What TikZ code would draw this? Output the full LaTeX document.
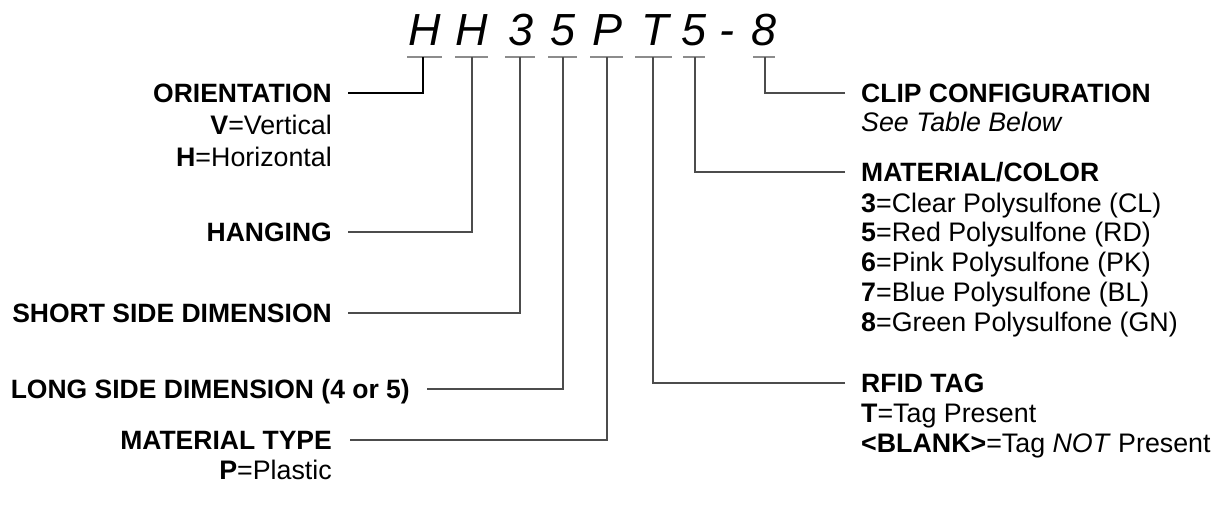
\documentclass[tikz,border=0pt]{standalone}
\usepackage{fontspec}
\setmainfont{Liberation Sans}
\begin{document}
\tikzset{
  hd/.style={font=\bfseries\fontsize{26.5}{30}\selectfont, inner sep=0pt, text height=19pt, text depth=0pt},
  ds/.style={font=\fontsize{26.8}{30}\selectfont, inner sep=0pt},
  codech/.style={font=\itshape\fontsize{45}{50}\selectfont, inner sep=0pt, anchor=base},
  uline/.style={draw=black!45, line width=2pt},
  conn/.style={draw=black!70, line width=1.2pt},
}
\begin{tikzpicture}[x=1pt,y=-1pt]
\useasboundingbox (0,0) rectangle (1223,517);
% code characters
\node[codech] (c1) at (425,45) {H};
\node[codech] (c2) at (472,45) {H};
\node[codech] (c3) at (521,45) {3};
\node[codech] (c4) at (563,45) {5};
\node[codech] (c5) at (607,45) {P};
\node[codech] (c6) at (655,45) {T};
\node[codech] (c7) at (694,45) {5};
\node[codech] (c8) at (727,45) {-};
\node[codech] (c9) at (764,45) {8};
% underline anchors
\coordinate (u1) at (423,57);
\coordinate (u2) at (472,57);
\coordinate (u3) at (520,57);
\coordinate (u4) at (563,57);
\coordinate (u5) at (607,57);
\coordinate (u6) at (653,57);
\coordinate (u7) at (695,57);
\coordinate (u9) at (765,57);
\draw[uline] ([xshift=-16pt]u1) -- ([xshift=19pt]u1);
\draw[uline] ([xshift=-17pt]u2) -- ([xshift=16pt]u2);
\draw[uline] ([xshift=-15pt]u3) -- ([xshift=15pt]u3);
\draw[uline] ([xshift=-15pt]u4) -- ([xshift=14pt]u4);
\draw[uline] ([xshift=-17pt]u5) -- ([xshift=16pt]u5);
\draw[uline] ([xshift=-18pt]u6) -- ([xshift=19pt]u6);
\draw[uline] ([xshift=-12pt]u7) -- ([xshift=10pt]u7);
\draw[uline] ([xshift=-12pt]u9) -- ([xshift=10pt]u9);
% left labels
\node[hd, anchor=east] (orient) at (332,93) {ORIENTATION};
\node[ds, anchor=base east] (orientV) at (332,134) {\textbf{V}=Vertical};
\node[ds, anchor=base east] (orientH) at (332,166) {\textbf{H}=Horizontal};
\node[hd, anchor=east] (hang) at (332,232) {HANGING};
\node[hd, anchor=east] (short) at (332,313) {SHORT SIDE DIMENSION};
\node[hd, anchor=east] (long) at (410,389) {LONG SIDE DIMENSION (4 or 5)};
\node[hd, anchor=east] (mtype) at (332,440) {MATERIAL TYPE};
\node[ds, anchor=base east] (mtypeP) at (332,479.5) {\textbf{P}=Plastic};
% right labels
\node[hd, anchor=west] (clip) at (861,93) {CLIP CONFIGURATION};
\node[ds, anchor=base west] (clipT) at (861,131.5) {\textit{See Table Below}};
\node[hd, anchor=west] (mcol) at (861,172) {MATERIAL/COLOR};
\node[ds, anchor=base west] (mc3) at (861,212.5) {\textbf{3}=Clear Polysulfone (CL)};
\node[ds, anchor=base west] (mc5) at (861,241.5) {\textbf{5}=Red Polysulfone (RD)};
\node[ds, anchor=base west] (mc6) at (861,271.5) {\textbf{6}=Pink Polysulfone (PK)};
\node[ds, anchor=base west] (mc7) at (861,301.5) {\textbf{7}=Blue Polysulfone (BL)};
\node[ds, anchor=base west] (mc8) at (861,331.5) {\textbf{8}=Green Polysulfone (GN)};
\node[hd, anchor=west] (rfid) at (861,383) {RFID TAG};
\node[ds, anchor=base west] (rfidT) at (861,422.5) {\textbf{T}=Tag Present};
\node[ds, anchor=base west] (rfidB) at (861,452.5) {\textbf{<BLANK>}=Tag \textit{NOT} Present};
% connectors
\draw[conn, draw=black] ([xshift=16pt]orient.east) -| (u1);
\draw[conn] ([xshift=16pt]hang.east) -| (u2);
\draw[conn] ([xshift=16pt]short.east) -| (u3);
\draw[conn] ([xshift=17pt]long.east) -| (u4);
\draw[conn] ([xshift=18pt]mtype.east) -| (u5);
\draw[conn] ([xshift=-16pt]rfid.west) -| (u6);
\draw[conn] ([xshift=-16pt]mcol.west) -| (u7);
\draw[conn] ([xshift=-16pt]clip.west) -| (u9);
\end{tikzpicture}
\end{document}
